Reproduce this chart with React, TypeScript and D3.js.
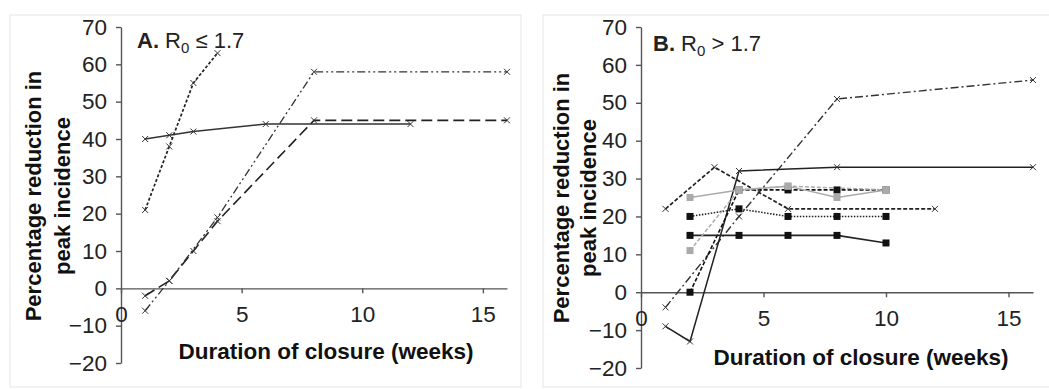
import { useEffect, useRef } from "react";
import * as d3 from "d3";

// tick values shared by both panels
const xTicks = [0, 5, 10, 15];
const yTicks = [-20, -10, 0, 10, 20, 30, 40, 50, 60, 70];

// Panel A: R0 <= 1.7  ([week, % reduction])
const a1 = [[1, 21], [2, 38], [3, 55], [4, 63]];
const a2 = [[1, 40], [2, 41], [3, 42], [6, 44], [12, 44]];
const a3 = [[1, -2], [2, 2], [3, 10], [4, 18], [8, 45], [16, 45]];
const a4 = [[1, -6], [2, 2], [4, 19], [8, 58], [16, 58]];

// Panel B: R0 > 1.7
const b1 = [[1, -4], [4, 20], [8, 51], [16, 56]];
const b2 = [[1, -9], [2, -13], [4, 32], [8, 33], [16, 33]];
const b3 = [[1, 22], [3, 33], [6, 22], [12, 22]];
const b4 = [[2, 25], [4, 27], [6, 28], [8, 25], [10, 27]];
const b5 = [[2, 11], [4, 27], [6, 28], [10, 27]];
const b6 = [[2, 0], [4, 27], [6, 27], [8, 27], [10, 27]];
const b7 = [[2, 20], [4, 22], [6, 20], [8, 20], [10, 20]];
const b8 = [[2, 15], [4, 15], [6, 15], [8, 15], [10, 13]];

const FONT = "'Liberation Sans', Arial, sans-serif";

const panels = [
  {
    frame: [10, 15, 511, 372],
    left: 121, right: 507, top: 27, bottom: 363,
    label: "A.", rel: "≤ 1.7", titleX: 137, titleY: 48,
    yLab1X: 33, yLab2X: 62, yLabY: 196,
    xLabX: 326, xLabY: 359,
    series: [
      { data: a1, stroke: "#222", dash: "3,2", width: 1.7, marker: "x" },
      { data: a2, stroke: "#333", dash: null, width: 1.5, marker: "x" },
      { data: a3, stroke: "#222", dash: "11,5", width: 1.6, marker: "x" },
      { data: a4, stroke: "#333", dash: "8,3,2,3,2,3", width: 1.3, marker: "x" },
    ],
  },
  {
    frame: [543, 15, 520, 372],
    left: 641, right: 1033, top: 27, bottom: 368,
    label: "B.", rel: "> 1.7", titleX: 653, titleY: 51,
    yLab1X: 561, yLab2X: 588, yLabY: 198,
    xLabX: 861, xLabY: 365,
    series: [
      { data: b1, stroke: "#333", dash: "8,3,2,3", width: 1.4, marker: "x" },
      { data: b2, stroke: "#222", dash: null, width: 1.5, marker: "x" },
      { data: b3, stroke: "#222", dash: "4,2", width: 1.7, marker: "x" },
      { data: b6, stroke: "#111", dash: "4,2", width: 1.6, marker: "sq" },
      { data: b7, stroke: "#222", dash: "1.5,1.5", width: 1.6, marker: "sq" },
      { data: b8, stroke: "#222", dash: null, width: 1.6, marker: "sq" },
      { data: b4, stroke: "#aaa", dash: null, width: 1.5, marker: "gsq" },
      { data: b5, stroke: "#aaa", dash: "4,2", width: 1.5, marker: "gsq" },
    ],
  },
];

export default function App() {
  const svgRef = useRef(null);

  useEffect(() => {
    const svg = d3.select(svgRef.current);
    svg.selectAll("*").remove();

    panels.forEach((p) => {
      const g = svg.append("g");

      // faint frame round the panel
      g.append("rect")
        .attr("x", p.frame[0])
        .attr("y", p.frame[1])
        .attr("width", p.frame[2])
        .attr("height", p.frame[3])
        .attr("fill", "white")
        .attr("stroke", "#eeeeee")
        .attr("stroke-width", 1.5);

      const x = d3.scaleLinear().domain([0, 16]).range([p.left, p.right]);
      const y = d3.scaleLinear().domain([-20, 70]).range([p.bottom, p.top]);

      // y axis
      const ya = g.append("g")
        .attr("transform", `translate(${p.left},0)`)
        .call(d3.axisLeft(y).tickValues(yTicks).tickSize(5).tickPadding(9).tickSizeOuter(0));
      ya.select(".domain").attr("stroke", "#555").attr("stroke-width", 1.4);
      ya.selectAll("line").attr("stroke", "#555").attr("stroke-width", 1.4);
      ya.selectAll("text")
        .style("font-family", FONT)
        .style("font-size", "22.5px")
        .attr("fill", "#222");

      // x axis sits on zero
      const xa = g.append("g")
        .attr("transform", `translate(0,${y(0)})`)
        .call(d3.axisBottom(x).tickValues(xTicks).tickSize(5).tickPadding(13).tickSizeOuter(0));
      xa.select(".domain").attr("stroke", "#555").attr("stroke-width", 1.4);
      xa.selectAll("line").attr("stroke", "#555").attr("stroke-width", 1.4);
      xa.selectAll("text")
        .style("font-family", FONT)
        .style("font-size", "22.5px")
        .attr("fill", "#222");

      const line = d3.line()
        .x((d) => x(d[0]))
        .y((d) => y(d[1]));

      p.series.forEach((s) => {
        g.append("path")
          .datum(s.data)
          .attr("fill", "none")
          .attr("stroke", s.stroke)
          .attr("stroke-width", s.width)
          .attr("stroke-dasharray", s.dash)
          .attr("d", line);
      });

      p.series.forEach((s) => {
        const pts = g.selectAll(null).data(s.data).enter();
        if (s.marker === "x") {
          pts.append("path")
            .attr("transform", (d) => `translate(${x(d[0])},${y(d[1])})`)
            .attr("d", "M-3,-3L3,3M-3,3L3,-3")
            .attr("stroke", "#333")
            .attr("stroke-width", 1);
        } else {
          pts.append("rect")
            .attr("x", (d) => x(d[0]) - 3.5)
            .attr("y", (d) => y(d[1]) - 3.5)
            .attr("width", 7)
            .attr("height", 7)
            .attr("fill", s.marker === "gsq" ? "#aaa" : "#111");
        }
      });

      // panel title
      const t = g.append("text")
        .attr("x", p.titleX)
        .attr("y", p.titleY)
        .style("font-family", FONT)
        .style("font-size", "22px")
        .attr("fill", "#222");
      t.append("tspan").style("font-weight", "bold").text(p.label);
      t.append("tspan").text(" R");
      t.append("tspan").attr("dy", 5).style("font-size", "15px").text("0");
      t.append("tspan").attr("dy", -5).text(" " + p.rel);

      // axis titles
      g.append("text")
        .attr("transform", `translate(${p.yLab1X},${p.yLabY}) rotate(-90)`)
        .attr("text-anchor", "middle")
        .attr("dy", "0.35em")
        .style("font-family", FONT)
        .style("font-size", "22px")
        .style("font-weight", "bold")
        .attr("fill", "#111")
        .text("Percentage reduction in");

      g.append("text")
        .attr("transform", `translate(${p.yLab2X},${p.yLabY}) rotate(-90)`)
        .attr("text-anchor", "middle")
        .attr("dy", "0.35em")
        .style("font-family", FONT)
        .style("font-size", "22px")
        .style("font-weight", "bold")
        .attr("fill", "#111")
        .text("peak incidence");

      g.append("text")
        .attr("x", p.xLabX)
        .attr("y", p.xLabY)
        .attr("text-anchor", "middle")
        .style("font-family", FONT)
        .style("font-size", "22.5px")
        .style("font-weight", "bold")
        .attr("fill", "#111")
        .text("Duration of closure (weeks)");
    });
  }, []);

  return (
    <svg
      ref={svgRef}
      width={1049}
      height={389}
      style={{ position: "fixed", left: 0, top: 0, background: "white" }}
    ></svg>
  );
}
